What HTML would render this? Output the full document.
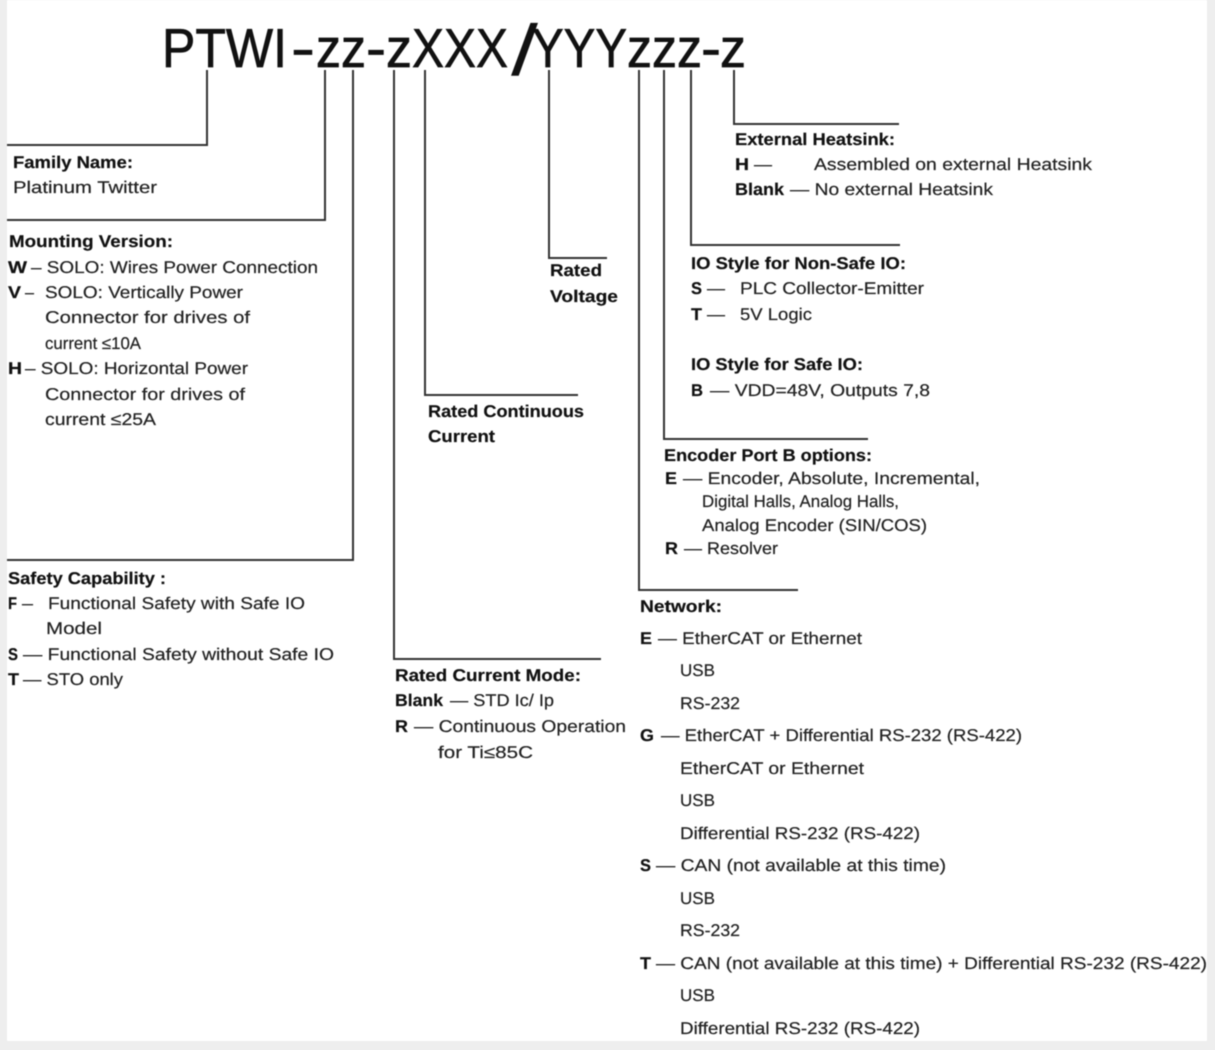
<!DOCTYPE html>
<html>
<head>
<meta charset="utf-8">
<style>
html,body{margin:0;padding:0;background:#eeeeee;width:1215px;height:1050px;overflow:hidden}
svg{position:absolute;left:0;top:0;display:block;filter:blur(0.4px)}
text{font-family:"Liberation Sans",sans-serif;font-size:17px;fill:#222;stroke:#222;stroke-width:.2;text-rendering:geometricPrecision}
.b{font-weight:bold;font-size:17px;fill:#111;stroke:#111}
.t{font-size:55px;fill:#111;stroke:#111;stroke-width:.7}
.s{font-size:72px;stroke-width:0}
path{fill:none;stroke:#333;stroke-width:2}
</style>
</head>
<body>
<svg width="1215" height="1050" viewBox="0 0 1215 1050" xmlns="http://www.w3.org/2000/svg">
<rect x="7" y="0" width="1200" height="1041" fill="#fff" style="stroke:none"/>
<text class="t" x="162" y="67" textLength="125" lengthAdjust="spacingAndGlyphs">PTWI</text>
<text class="t" x="291" y="67" textLength="24" lengthAdjust="spacingAndGlyphs">-</text>
<text class="t" x="316" y="67" textLength="50" lengthAdjust="spacingAndGlyphs">zz</text>
<text class="t" x="366" y="67" textLength="20" lengthAdjust="spacingAndGlyphs">-</text>
<text class="t" x="386" y="67" textLength="26" lengthAdjust="spacingAndGlyphs">z</text>
<text class="t" x="412" y="67" textLength="96" lengthAdjust="spacingAndGlyphs">XXX</text>
<text class="t s" x="511" y="75" textLength="27" lengthAdjust="spacingAndGlyphs">/</text>
<text class="t" x="532" y="67" textLength="95" lengthAdjust="spacingAndGlyphs">YYY</text>
<text class="t" x="627" y="67" textLength="75" lengthAdjust="spacingAndGlyphs">zzz</text>
<text class="t" x="701" y="67" textLength="20" lengthAdjust="spacingAndGlyphs">-</text>
<text class="t" x="720" y="67" textLength="26" lengthAdjust="spacingAndGlyphs">z</text>

<path d="M207 70V145H7"/>
<path d="M325 70V220H7"/>
<path d="M353 70V560H7"/>
<path d="M394 70V659H601"/>
<path d="M425 70V395H578"/>
<path d="M549 70V258H607"/>
<path d="M639 70V590H798"/>
<path d="M664 70V439H868"/>
<path d="M691 70V245H900"/>
<path d="M734 70V124H899"/>

<text class="b" x="13" y="168" textLength="120" lengthAdjust="spacingAndGlyphs">Family Name:</text>
<text x="13" y="193" textLength="144" lengthAdjust="spacingAndGlyphs">Platinum Twitter</text>

<text class="b" x="9" y="247" textLength="164" lengthAdjust="spacingAndGlyphs">Mounting Version:</text>
<text class="b" x="8" y="273" textLength="19" lengthAdjust="spacingAndGlyphs">W</text>
<text x="31" y="273" textLength="287" lengthAdjust="spacingAndGlyphs">– SOLO: Wires Power Connection</text>
<text class="b" x="8" y="298" textLength="13" lengthAdjust="spacingAndGlyphs">V</text>
<text x="25" y="298" textLength="9" lengthAdjust="spacingAndGlyphs">–</text>
<text x="45" y="298" textLength="198" lengthAdjust="spacingAndGlyphs">SOLO: Vertically Power</text>
<text x="45" y="323" textLength="205" lengthAdjust="spacingAndGlyphs">Connector for drives  of</text>
<text x="45" y="349" textLength="96" lengthAdjust="spacingAndGlyphs">current ≤10A</text>
<text class="b" x="8" y="374" textLength="14" lengthAdjust="spacingAndGlyphs">H</text>
<text x="25" y="374" textLength="223" lengthAdjust="spacingAndGlyphs">– SOLO: Horizontal Power</text>
<text x="45" y="400" textLength="200" lengthAdjust="spacingAndGlyphs">Connector for drives of</text>
<text x="45" y="425" textLength="111" lengthAdjust="spacingAndGlyphs">current ≤25A</text>

<text class="b" x="8" y="584" textLength="158" lengthAdjust="spacingAndGlyphs">Safety Capability :</text>
<text class="b" x="8" y="609" textLength="9" lengthAdjust="spacingAndGlyphs">F</text>
<text x="22" y="609" textLength="11" lengthAdjust="spacingAndGlyphs">–</text>
<text x="48" y="609" textLength="257" lengthAdjust="spacingAndGlyphs">Functional Safety with Safe IO</text>
<text x="46" y="634" textLength="56" lengthAdjust="spacingAndGlyphs">Model</text>
<text class="b" x="8" y="660" textLength="10" lengthAdjust="spacingAndGlyphs">S</text>
<text x="23" y="660" textLength="311" lengthAdjust="spacingAndGlyphs">— Functional Safety without Safe IO</text>
<text class="b" x="8" y="685" textLength="11" lengthAdjust="spacingAndGlyphs">T</text>
<text x="23" y="685" textLength="100" lengthAdjust="spacingAndGlyphs">— STO only</text>

<text class="b" x="395" y="681" textLength="186" lengthAdjust="spacingAndGlyphs">Rated Current Mode:</text>
<text class="b" x="395" y="706" textLength="48" lengthAdjust="spacingAndGlyphs">Blank</text>
<text x="450" y="706" textLength="104" lengthAdjust="spacingAndGlyphs">— STD Ic/ Ip</text>
<text class="b" x="395" y="732" textLength="13" lengthAdjust="spacingAndGlyphs">R</text>
<text x="414" y="732" textLength="212" lengthAdjust="spacingAndGlyphs">— Continuous Operation</text>
<text x="438" y="758" textLength="95" lengthAdjust="spacingAndGlyphs">for Ti≤85C</text>

<text class="b" x="428" y="417" textLength="156" lengthAdjust="spacingAndGlyphs">Rated Continuous</text>
<text class="b" x="428" y="442" textLength="67" lengthAdjust="spacingAndGlyphs">Current</text>

<text class="b" x="550" y="276" textLength="52" lengthAdjust="spacingAndGlyphs">Rated</text>
<text class="b" x="550" y="302" textLength="68" lengthAdjust="spacingAndGlyphs">Voltage</text>

<text class="b" x="735" y="145" textLength="160" lengthAdjust="spacingAndGlyphs">External Heatsink:</text>
<text class="b" x="735" y="170" textLength="14" lengthAdjust="spacingAndGlyphs">H</text>
<text x="754" y="170" textLength="18" lengthAdjust="spacingAndGlyphs">—</text>
<text x="814" y="170" textLength="278" lengthAdjust="spacingAndGlyphs">Assembled on external Heatsink</text>
<text class="b" x="735" y="195" textLength="49" lengthAdjust="spacingAndGlyphs">Blank</text>
<text x="790" y="195" textLength="203" lengthAdjust="spacingAndGlyphs">— No external Heatsink</text>

<text class="b" x="691" y="269" textLength="215" lengthAdjust="spacingAndGlyphs">IO Style for Non-Safe IO:</text>
<text class="b" x="691" y="294" textLength="11" lengthAdjust="spacingAndGlyphs">S</text>
<text x="707" y="294" textLength="18" lengthAdjust="spacingAndGlyphs">—</text>
<text x="740" y="294" textLength="184" lengthAdjust="spacingAndGlyphs">PLC Collector-Emitter</text>
<text class="b" x="691" y="320" textLength="11" lengthAdjust="spacingAndGlyphs">T</text>
<text x="707" y="320" textLength="18" lengthAdjust="spacingAndGlyphs">—</text>
<text x="740" y="320" textLength="72" lengthAdjust="spacingAndGlyphs">5V Logic</text>
<text class="b" x="691" y="370" textLength="172" lengthAdjust="spacingAndGlyphs">IO Style for Safe IO:</text>
<text class="b" x="691" y="396" textLength="12" lengthAdjust="spacingAndGlyphs">B</text>
<text x="710" y="396" textLength="220" lengthAdjust="spacingAndGlyphs">— VDD=48V, Outputs 7,8</text>

<text class="b" x="664" y="461" textLength="208" lengthAdjust="spacingAndGlyphs">Encoder Port B options:</text>
<text class="b" x="665" y="484" textLength="12" lengthAdjust="spacingAndGlyphs">E</text>
<text x="683" y="484" textLength="297" lengthAdjust="spacingAndGlyphs">— Encoder, Absolute, Incremental,</text>
<text x="702" y="507" textLength="197" lengthAdjust="spacingAndGlyphs">Digital Halls, Analog Halls,</text>
<text x="702" y="531" textLength="225" lengthAdjust="spacingAndGlyphs">Analog Encoder (SIN/COS)</text>
<text class="b" x="665" y="554" textLength="13" lengthAdjust="spacingAndGlyphs">R</text>
<text x="684" y="554" textLength="94" lengthAdjust="spacingAndGlyphs">— Resolver</text>

<text class="b" x="640" y="612" textLength="82" lengthAdjust="spacingAndGlyphs">Network:</text>
<text class="b" x="640" y="644" textLength="12" lengthAdjust="spacingAndGlyphs">E</text>
<text x="658" y="644" textLength="204" lengthAdjust="spacingAndGlyphs">— EtherCAT or Ethernet</text>
<text x="680" y="676" textLength="35" lengthAdjust="spacingAndGlyphs">USB</text>
<text x="680" y="709" textLength="60" lengthAdjust="spacingAndGlyphs">RS-232</text>
<text class="b" x="640" y="741" textLength="14" lengthAdjust="spacingAndGlyphs">G</text>
<text x="661" y="741" textLength="361" lengthAdjust="spacingAndGlyphs">— EtherCAT + Differential RS-232 (RS-422)</text>
<text x="680" y="774" textLength="184" lengthAdjust="spacingAndGlyphs">EtherCAT or Ethernet</text>
<text x="680" y="806" textLength="35" lengthAdjust="spacingAndGlyphs">USB</text>
<text x="680" y="839" textLength="240" lengthAdjust="spacingAndGlyphs">Differential RS-232 (RS-422)</text>
<text class="b" x="640" y="871" textLength="11" lengthAdjust="spacingAndGlyphs">S</text>
<text x="656" y="871" textLength="290" lengthAdjust="spacingAndGlyphs">— CAN (not available at this time)</text>
<text x="680" y="904" textLength="35" lengthAdjust="spacingAndGlyphs">USB</text>
<text x="680" y="936" textLength="60" lengthAdjust="spacingAndGlyphs">RS-232</text>
<text class="b" x="640" y="969" textLength="11" lengthAdjust="spacingAndGlyphs">T</text>
<text x="656" y="969" textLength="551" lengthAdjust="spacingAndGlyphs">— CAN (not available at this time) + Differential RS-232 (RS-422)</text>
<text x="680" y="1001" textLength="35" lengthAdjust="spacingAndGlyphs">USB</text>
<text x="680" y="1034" textLength="240" lengthAdjust="spacingAndGlyphs">Differential RS-232 (RS-422)</text>
</svg>
</body>
</html>
